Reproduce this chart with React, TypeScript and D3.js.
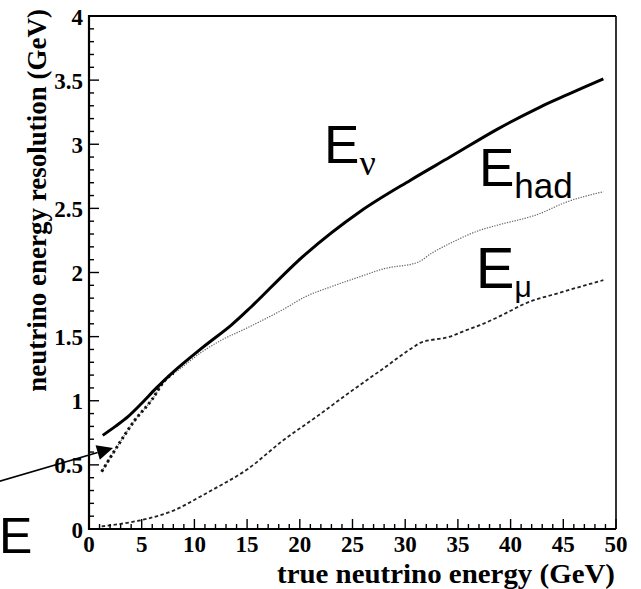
import React from "react";
import * as d3 from "d3";

// Resolution curves: [true neutrino energy (GeV), resolution (GeV)]
const neutrinoRes: [number, number][] = [
  [1.3, 0.73], [2.5, 0.8], [3.7, 0.876], [5, 0.98], [6.4, 1.1], [7.85, 1.214],
  [10.7, 1.41], [13.5, 1.59], [15.4, 1.733], [20.5, 2.14], [25.7, 2.474],
  [30.5, 2.72], [34.25, 2.9], [38.8, 3.12], [42.8, 3.29], [45.5, 3.39],
  [48.8, 3.51],
];

const hadronRes: [number, number][] = [
  [1.2, 0.447], [2.47, 0.616], [4.36, 0.85], [5.95, 1.006], [7.2, 1.16],
  [8.5, 1.24], [10.7, 1.38], [12.5, 1.47], [14.8, 1.56], [18.6, 1.72],
  [20.5, 1.81], [23, 1.89], [25.7, 1.967], [28, 2.03], [31.2, 2.08],
  [32.5, 2.15], [34.25, 2.227], [37.1, 2.33], [38.8, 2.37], [42.8, 2.46],
  [45, 2.54], [48.8, 2.63],
];

const muonRes: [number, number][] = [
  [1.2, 0.02], [3, 0.04], [5, 0.07], [8.2, 0.15], [10.5, 0.25], [11.6, 0.3],
  [15.1, 0.47], [18.4, 0.69], [21.6, 0.876], [24.8, 1.07], [27.9, 1.25],
  [30.8, 1.42], [31.4, 1.45], [34.25, 1.5], [35.8, 1.55], [37.1, 1.59],
  [40.2, 1.71], [40.9, 1.74], [45, 1.85], [48.8, 1.94],
];

// Low-energy segment highlighted by the arrow
const lowEnergyRes: [number, number][] = [
  [1.2, 0.447], [2.47, 0.616], [4.36, 0.85], [5.95, 1.006], [7.2, 1.16], [8.0, 1.214],
];

const xMajorTicks = [0, 5, 10, 15, 20, 25, 30, 35, 40, 45, 50];
const yMajorTicks = [0, 0.5, 1, 1.5, 2, 2.5, 3, 3.5, 4];
const yTickLabels = ["0", "0.5", "1", "1.5", "2", "2.5", "3", "3.5", "4"];

// Arrow annotation (data units): tail off the left edge, head at the curve start
const arrowTail: [number, number] = [-9, 0.36];
const arrowHead: [number, number] = [2.28, 0.632];

const W = 641;
const H = 589;

export default function App() {
  const x = d3.scaleLinear().domain([0, 50]).range([89, 616]);
  const y = d3.scaleLinear().domain([0, 4]).range([529, 16]);

  const line = d3
    .line<[number, number]>()
    .x((d) => x(d[0]))
    .y((d) => y(d[1]))
    .curve(d3.curveMonotoneX);

  const smooth = d3
    .line<[number, number]>()
    .x((d) => x(d[0]))
    .y((d) => y(d[1]))
    .curve(d3.curveCatmullRom.alpha(0.5));

  const xMinor = d3.range(0, 51, 1);
  const yMinor = d3.range(0, 40.5, 1).map((v) => v / 10);

  const serif = "'Liberation Serif', 'Times New Roman', serif";
  const sans = "'Liberation Sans', Arial, sans-serif";

  // arrowhead geometry
  const hx = x(arrowHead[0]);
  const hy = y(arrowHead[1]);
  const tx = x(arrowTail[0]);
  const ty = y(arrowTail[1]);
  const ang = Math.atan2(hy - ty, hx - tx);
  const aLen = 16;
  const aHalf = 7.5;
  const bx = hx - aLen * Math.cos(ang);
  const by = hy - aLen * Math.sin(ang);
  const px = -Math.sin(ang) * aHalf;
  const py = Math.cos(ang) * aHalf;

  return (
    <svg
      width={W}
      height={H}
      style={{ position: "absolute", left: 0, top: 0, background: "#fff" }}
    >
      <rect x={0} y={0} width={W} height={H} fill="#fff" />

      {/* curves */}
      <path d={line(muonRes) ?? ""} fill="none" stroke="#222" strokeWidth={1.8} strokeDasharray="3.5 2.5" />
      <path d={line(hadronRes) ?? ""} fill="none" stroke="#666" strokeWidth={1.2} strokeDasharray="1.3 1.3" />
      <path d={line(lowEnergyRes) ?? ""} fill="none" stroke="#111" strokeWidth={3} strokeDasharray="2.5 3" />
      <path d={smooth(neutrinoRes) ?? ""} fill="none" stroke="#000" strokeWidth={3} />

      {/* frame */}
      <line x1={x(0)} x2={x(50)} y1={y(4)} y2={y(4)} stroke="#000" strokeWidth={2} />
      <line x1={x(50)} x2={x(50)} y1={y(4)} y2={y(0)} stroke="#000" strokeWidth={1.6} />
      <line x1={x(0)} x2={x(0)} y1={y(4) - 1} y2={y(0) + 1} stroke="#000" strokeWidth={2.2} />
      <line x1={x(0) - 1} x2={x(50)} y1={y(0)} y2={y(0)} stroke="#000" strokeWidth={2.2} />

      {/* x ticks */}
      {xMinor.map((v) => (
        <line
          key={`xm${v}`}
          x1={x(v)}
          x2={x(v)}
          y1={y(0)}
          y2={y(0) - (v % 5 === 0 ? 10 : 5)}
          stroke="#000"
          strokeWidth={1.4}
        />
      ))}
      {xMajorTicks.map((v) => (
        <text
          key={`xl${v}`}
          x={x(v)}
          y={552}
          textAnchor="middle"
          fontFamily={serif}
          fontWeight="bold"
          fontSize={23}
        >
          {v}
        </text>
      ))}

      {/* y ticks */}
      {yMinor.map((v, i) => (
        <line
          key={`ym${i}`}
          x1={x(0)}
          x2={x(0) + (i % 5 === 0 ? 10 : 5)}
          y1={y(v)}
          y2={y(v)}
          stroke="#000"
          strokeWidth={1.4}
        />
      ))}
      {yMajorTicks.map((v, i) => (
        <text
          key={`yl${v}`}
          x={83}
          y={y(v) + 8.5}
          textAnchor="end"
          fontFamily={serif}
          fontWeight="bold"
          fontSize={23}
        >
          {yTickLabels[i]}
        </text>
      ))}

      {/* axis titles */}
      <text
        x={615}
        y={583}
        textAnchor="end"
        fontFamily={serif}
        fontWeight="bold"
        fontSize={27}
        textLength={338}
        lengthAdjust="spacingAndGlyphs"
      >
        true neutrino energy (GeV)
      </text>
      <text
        transform="translate(46,9) rotate(-90)"
        textAnchor="end"
        fontFamily={serif}
        fontWeight="bold"
        fontSize={27}
      >
        neutrino energy resolution (GeV)
      </text>

      {/* curve labels */}
      <text x={x(22.3)} y={y(2.854)} fontFamily={sans} fontSize={53}>
        E
        <tspan fontFamily={serif} fontSize={36} dy={12}>
          ν
        </tspan>
      </text>
      <text x={x(37.0)} y={y(2.674)} fontFamily={sans} fontSize={53}>
        E
        <tspan fontSize={35} dy={12}>
          had
        </tspan>
      </text>
      <text x={x(36.7)} y={y(1.879)} fontFamily={sans} fontSize={58}>
        E
        <tspan fontSize={30} dy={9}>
          μ
        </tspan>
      </text>

      {/* arrow annotation */}
      <line x1={tx} y1={ty} x2={bx} y2={by} stroke="#000" strokeWidth={1.6} />
      <polygon
        points={`${hx},${hy} ${bx + px},${by + py} ${bx - px},${by - py}`}
        fill="#000"
      />
      <text x={-1} y={553} fontFamily={sans} fontSize={50}>
        E
      </text>
    </svg>
  );
}
